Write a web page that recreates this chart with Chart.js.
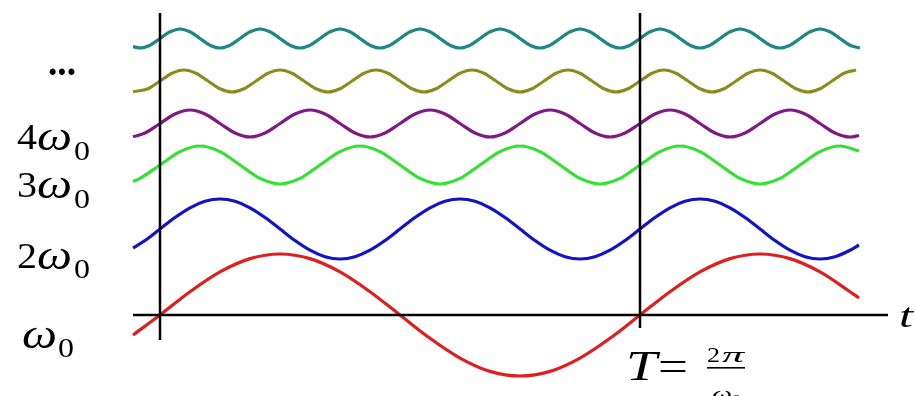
<!DOCTYPE html>
<html>
<head>
<meta charset="utf-8">
<script src="https://cdn.jsdelivr.net/npm/chart.js@4"></script>
<style>
  html, body { margin: 0; background: #fff; }
  #c { display: block; }
</style>
</head>
<body>
<canvas id="c" width="915" height="396"></canvas>
<script>
// time axis: T = 48 units; values at evenly spaced points of each harmonic
const redT = [-2.7, 0, 3, 6, 9, 12, 15, 18, 21, 24, 27, 30, 33, 36, 39, 42, 45, 48, 51, 54,
              57, 60, 63, 66, 69, 69.9];
const redV = [-2.0, 0, 2.33, 4.31, 5.64, 6.1, 5.64, 4.31, 2.33, 0, -2.33, -4.31, -5.64, -6.1,
              -5.64, -4.31, -2.33, 0, 2.33, 4.31, 5.64, 6.1, 5.64, 4.31, 2.33, 1.7];

const blueT = [-2.7, -1.5, 0, 1.5, 3, 4.5, 6, 7.5, 9, 10.5, 12, 13.5, 15, 16.5, 18, 19.5, 21, 22.5,
               24, 25.5, 27, 28.5, 30, 31.5, 33, 34.5, 36, 37.5, 39, 40.5, 42, 43.5, 45, 46.5,
               48, 49.5, 51, 52.5, 54, 55.5, 57, 58.5, 60, 61.5, 63, 64.5, 66, 67.5, 69, 69.9];
const blueV = [6.7, 7.45,
               8.6, 9.75, 10.72, 11.37, 11.6, 11.37, 10.72, 9.75, 8.6, 7.45, 6.48, 5.83, 5.6, 5.83, 6.48, 7.45,
               8.6, 9.75, 10.72, 11.37, 11.6, 11.37, 10.72, 9.75, 8.6, 7.45, 6.48, 5.83, 5.6, 5.83, 6.48, 7.45,
               8.6, 9.75, 10.72, 11.37, 11.6, 11.37, 10.72, 9.75, 8.6, 7.45, 6.48, 5.83, 5.6, 5.83, 6.48, 7.0];

const greenT = [-2.7, -2, 0, 2, 4, 6, 8, 10, 12, 14, 16, 18, 20, 22, 24, 26, 28, 30, 32, 34, 36, 38,
                40, 42, 44, 46, 48, 50, 52, 54, 56, 58, 60, 62, 64, 66, 68, 69.9];
const greenV = [13.35, 13.66, 15.0, 16.34, 16.9, 16.34, 15.0, 13.66, 13.1, 13.66,
                15.0, 16.34, 16.9, 16.34, 15.0, 13.66, 13.1, 13.66,
                15.0, 16.34, 16.9, 16.34, 15.0, 13.66, 13.1, 13.66,
                15.0, 16.34, 16.9, 16.34, 15.0, 13.66, 13.1, 13.66,
                15.0, 16.34, 16.9, 16.4];

const purpleT = [-2.7, -1.5, 0, 1.5, 3, 4.5, 6, 7.5, 9, 10.5, 12, 13.5, 15, 16.5, 18, 19.5, 21, 22.5,
                 24, 25.5, 27, 28.5, 30, 31.5, 33, 34.5, 36, 37.5, 39, 40.5, 42, 43.5, 45, 46.5,
                 48, 49.5, 51, 52.5, 54, 55.5, 57, 58.5, 60, 61.5, 63, 64.5, 66, 67.5, 69, 69.9];
const purpleV = [17.82, 18.2,
                 19.15, 20.1, 20.5, 20.1, 19.15, 18.2, 17.8, 18.2,
                 19.15, 20.1, 20.5, 20.1, 19.15, 18.2, 17.8, 18.2,
                 19.15, 20.1, 20.5, 20.1, 19.15, 18.2, 17.8, 18.2,
                 19.15, 20.1, 20.5, 20.1, 19.15, 18.2, 17.8, 18.2,
                 19.15, 20.1, 20.5, 20.1, 19.15, 18.2, 17.8, 18.2,
                 19.15, 20.1, 20.5, 20.1, 19.15, 18.2, 17.8, 17.95];

const oliveT = [-2.7, -1.2, 0, 1.2, 2.4, 3.6, 4.8, 6, 7.2, 8.4, 9.6, 10.8, 12, 13.2, 14.4, 15.6,
                16.8, 18, 19.2, 20.4, 21.6, 22.8, 24, 25.2, 26.4, 27.6, 28.8, 30, 31.2, 32.4,
                33.6, 34.8, 36, 37.2, 38.4, 39.6, 40.8, 42, 43.2, 44.4, 45.6, 46.8, 48, 49.2,
                50.4, 51.6, 52.8, 54, 55.2, 56.4, 57.6, 58.8, 60, 61.2, 62.4, 63.6, 64.8, 66,
                67.2, 68.4, 69.6];
const oliveV = [22.33, 22.62,
                23.4, 24.18, 24.5, 24.18, 23.4, 22.62, 22.3, 22.62,
                23.4, 24.18, 24.5, 24.18, 23.4, 22.62, 22.3, 22.62,
                23.4, 24.18, 24.5, 24.18, 23.4, 22.62, 22.3, 22.62,
                23.4, 24.18, 24.5, 24.18, 23.4, 22.62, 22.3, 22.62,
                23.4, 24.18, 24.5, 24.18, 23.4, 22.62, 22.3, 22.62,
                23.4, 24.18, 24.5, 24.18, 23.4, 22.62, 22.3, 22.62,
                23.4, 24.18, 24.5, 24.18, 23.4, 22.62, 22.3, 22.62,
                23.4, 24.18, 24.5];

const tealT = [-2.7, -2, -1, 0, 1, 2, 3, 4, 5, 6, 7, 8, 9, 10, 11, 12, 13, 14, 15, 16, 17, 18, 19,
               20, 21, 22, 23, 24, 25, 26, 27, 28, 29, 30, 31, 32, 33, 34, 35, 36, 37, 38, 39,
               40, 41, 42, 43, 44, 45, 46, 47, 48, 49, 50, 51, 52, 53, 54, 55, 56, 57, 58, 59,
               60, 61, 62, 63, 64, 65, 66, 67, 68, 69, 70];
const tealV = [26.84, 26.7, 26.98,
               27.65, 28.32, 28.6, 28.32, 27.65, 26.98, 26.7, 26.98,
               27.65, 28.32, 28.6, 28.32, 27.65, 26.98, 26.7, 26.98,
               27.65, 28.32, 28.6, 28.32, 27.65, 26.98, 26.7, 26.98,
               27.65, 28.32, 28.6, 28.32, 27.65, 26.98, 26.7, 26.98,
               27.65, 28.32, 28.6, 28.32, 27.65, 26.98, 26.7, 26.98,
               27.65, 28.32, 28.6, 28.32, 27.65, 26.98, 26.7, 26.98,
               27.65, 28.32, 28.6, 28.32, 27.65, 26.98, 26.7, 26.98,
               27.65, 28.32, 28.6, 28.32, 27.65, 26.98, 26.7, 26.98,
               27.65, 28.32, 28.6, 28.32, 27.65, 26.98, 26.7];

// axes: t axis, the origin line and the line at t = T
const axisT = [-2.7, 72.8];
const axisV = [0, 0];
const originT = [0, 0];
const originV = [30.2, -2.5];
const periodT = [48, 48];
const periodV = [30.2, -1.3];

function pts(xs, ys) {
  return xs.map((x, i) => ({x: x, y: ys[i]}));
}

function wave(data, color) {
  return {data: data, borderColor: color, borderWidth: 3.2, cubicInterpolationMode: 'monotone',
          pointRadius: 0, fill: false};
}

function rule(data) {
  return {data: data, borderColor: '#000', borderWidth: 2.5, tension: 0, pointRadius: 0, fill: false};
}

// label text drawn on the canvas, each piece stretched to the width seen in the picture
const labels = [
  {text: '...', x: 48, y: 75, font: 'bold 40px "Liberation Serif"', w: 28},
  {text: '4', x: 17, y: 149, font: '36px "Liberation Serif"', w: 20},
  {text: 'ω', x: 37, y: 150, font: 'italic 42px "Liberation Serif"', w: 35},
  {text: '0', x: 74, y: 160, font: '27px "Liberation Serif"', w: 16},
  {text: '3', x: 17, y: 197, font: '36px "Liberation Serif"', w: 20},
  {text: 'ω', x: 37, y: 198, font: 'italic 42px "Liberation Serif"', w: 35},
  {text: '0', x: 74, y: 208, font: '27px "Liberation Serif"', w: 16},
  {text: '2', x: 17, y: 268, font: '36px "Liberation Serif"', w: 20},
  {text: 'ω', x: 37, y: 269, font: 'italic 42px "Liberation Serif"', w: 35},
  {text: '0', x: 74, y: 278, font: '27px "Liberation Serif"', w: 16},
  {text: 'ω', x: 22, y: 348, font: 'italic 42px "Liberation Serif"', w: 35},
  {text: '0', x: 58, y: 357, font: '27px "Liberation Serif"', w: 16},
  {text: 'T', x: 626, y: 380, font: 'italic 42px "Liberation Serif"', w: 31},
  {text: '=', x: 658, y: 380, font: '42px "Liberation Serif"', w: 30},
  {text: '2', x: 707, y: 362, font: '21px "Liberation Serif"', w: 13},
  {text: 'π', x: 722, y: 362, font: 'italic 22px "Liberation Serif"', w: 22},
  {text: 'ω', x: 712, y: 401, font: 'italic 22px "Liberation Serif"', w: 20},
  {text: '0', x: 732, y: 405, font: '15px "Liberation Serif"', w: 9},
  {text: 't', x: 899, y: 327, font: 'italic 34px "Liberation Serif"', w: 14}
];

const textPlugin = {
  id: 'texts',
  afterDraw(chart) {
    const ctx = chart.ctx;
    ctx.save();
    ctx.fillStyle = '#000';
    ctx.textBaseline = 'alphabetic';
    ctx.textAlign = 'left';
    for (const l of labels) {
      ctx.font = l.font;
      const m = ctx.measureText(l.text).width;
      ctx.save();
      ctx.translate(l.x, l.y);
      ctx.scale(l.w / m, 1);
      ctx.fillText(l.text, 0, 0);
      ctx.restore();
    }
    // fraction bar of 2π/ω0
    ctx.fillRect(707, 367, 38, 1.6);
    ctx.restore();
  }
};

new Chart(document.getElementById('c').getContext('2d'), {
  type: 'line',
  data: {
    datasets: [
      rule(pts(originT, originV)),
      rule(pts(periodT, periodV)),
      rule(pts(axisT, axisV)),
      wave(pts(tealT, tealV), '#208585'),
      wave(pts(oliveT, oliveV), '#8c8c1e'),
      wave(pts(purpleT, purpleV), '#7f1a80'),
      wave(pts(greenT, greenV), '#35e035'),
      wave(pts(blueT, blueV), '#1212c8'),
      wave(pts(redT, redV), '#de1f1f')
    ]
  },
  options: {
    responsive: false,
    animation: false,
    layout: {padding: 0},
    plugins: {legend: {display: false}, tooltip: {enabled: false}},
    scales: {
      x: {type: 'linear', min: -16, max: 75.5, display: false},
      y: {min: -8.1, max: 31.5, display: false}
    }
  },
  plugins: [textPlugin]
});
</script>
</body>
</html>
